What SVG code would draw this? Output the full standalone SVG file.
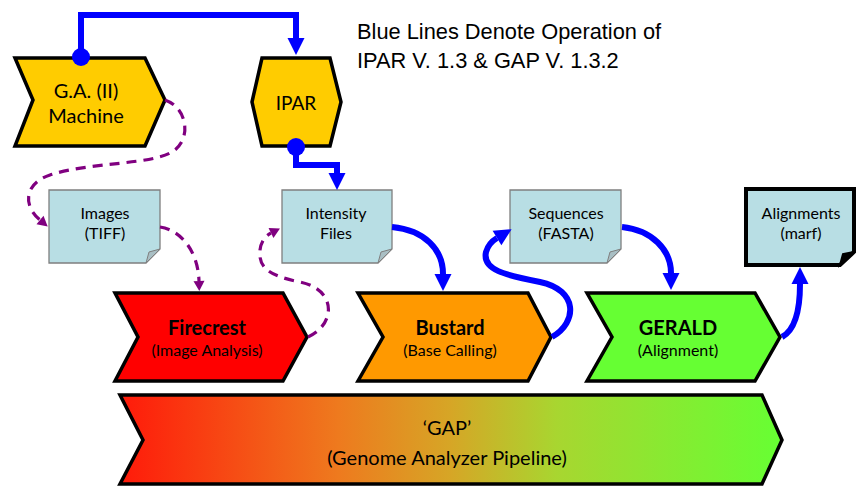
<svg xmlns="http://www.w3.org/2000/svg" width="856" height="492" viewBox="0 0 856 492">
<style>
.node{stroke:#000;stroke-width:3.5;stroke-linejoin:miter}
.doc{fill:#B8DEE4;stroke:#7F7F7F;stroke-width:1.3}
.fold{fill:#A9BFC4;stroke:#7F7F7F;stroke-width:1}
.t{font-family:Lato,"Open Sans",sans-serif;fill:#000;text-anchor:middle}
.b{font-weight:bold}
.blue{fill:none;stroke:#0000FF;stroke-width:6}
.purple{fill:none;stroke:#800080;stroke-width:3.2;stroke-dasharray:10,7}
.note{font-family:"Liberation Sans",Arial,sans-serif;font-size:21.8px;fill:#000}
</style>
<defs>
<marker id="ab" markerUnits="userSpaceOnUse" markerWidth="20" markerHeight="20" refX="0" refY="10" orient="auto" overflow="visible">
<path d="M0,1.5 L17,10 L0,18.5 Z" fill="#0000FF"/>
</marker>
<marker id="ap" markerUnits="userSpaceOnUse" markerWidth="12" markerHeight="12" refX="0" refY="6" orient="auto" overflow="visible">
<path d="M0,0.5 L10,6 L0,11.5 Z" fill="#800080"/>
</marker>
<linearGradient id="gapg" x1="0" y1="0" x2="1" y2="0">
<stop offset="0" stop-color="#FF1A0A"/>
<stop offset="0.33" stop-color="#EE7A1E"/>
<stop offset="0.5" stop-color="#D6A626"/>
<stop offset="0.66" stop-color="#A8D630"/>
<stop offset="1" stop-color="#66FF33"/>
</linearGradient>
</defs>

<text class="note" x="357" y="39">Blue Lines Denote Operation of</text>
<text class="note" x="357" y="68">IPAR V. 1.3 &amp; GAP V. 1.3.2</text>

<g id="ga-machine">
<polygon class="node" fill="#FFCC00" points="15,58 145,58 165,100 145,146 15,146 33,100"/>
<text class="t" x="86" y="98" font-size="20">G.A. (II)</text>
<text class="t" x="86" y="123" font-size="20">Machine</text>
</g>

<g id="ipar">
<polygon class="node" fill="#FFCC00" points="252,102 262,58 330,58 341,102 330,146 262,146"/>
<text class="t" x="296" y="110" font-size="19">IPAR</text>
</g>

<g id="images">
<path class="doc" d="M49,190 H160 V249 L146,263 H49 Z"/>
<path class="fold" d="M146,263 L149,252 L160,249 Z"/>
<text class="t" x="105" y="219" font-size="16">Images</text>
<text class="t" x="105" y="239" font-size="16">(TIFF)</text>
</g>

<g id="intensity">
<path class="doc" d="M282,190 H392 V249 L378,263 H282 Z"/>
<path class="fold" d="M378,263 L381,252 L392,249 Z"/>
<text class="t" x="336" y="219" font-size="16">Intensity</text>
<text class="t" x="336" y="239" font-size="16">Files</text>
</g>

<g id="sequences">
<path class="doc" d="M510,190 H621 V249 L607,263 H510 Z"/>
<path class="fold" d="M607,263 L610,252 L621,249 Z"/>
<text class="t" x="566" y="219" font-size="16">Sequences</text>
<text class="t" x="566" y="239" font-size="16">(FASTA)</text>
</g>

<g id="alignments">
<path d="M746,189 H854 V252 L840,265 H746 Z" fill="#B8DEE4" stroke="#000" stroke-width="4"/>
<path d="M840,265 L843,254 L854,252 Z" fill="#000" stroke="#000" stroke-width="2"/>
<text class="t" x="801" y="219" font-size="16">Alignments</text>
<text class="t" x="801" y="239" font-size="16">(marf)</text>
</g>

<g id="firecrest">
<polygon class="node" fill="#FF0000" points="115,293 283,293 307,337 283,381 115,381 138,337"/>
<text class="t b" x="207" y="335" font-size="20">Firecrest</text>
<text class="t" x="207" y="356" font-size="16">(Image Analysis)</text>
</g>

<g id="bustard">
<polygon class="node" fill="#FF9900" points="358,293 528,293 551,337 528,381 358,381 383,337"/>
<text class="t b" x="450" y="335" font-size="20">Bustard</text>
<text class="t" x="450" y="356" font-size="16">(Base Calling)</text>
</g>

<g id="gerald">
<polygon class="node" fill="#66FF33" points="587,293 755,293 780,337 755,381 587,381 612,337"/>
<text class="t b" x="678" y="335" font-size="20">GERALD</text>
<text class="t" x="678" y="356" font-size="16">(Alignment)</text>
</g>

<g id="gap">
<polygon class="node" fill="url(#gapg)" points="120,395 762,395 782,440 762,484 120,484 143,440"/>
<text class="t" x="447" y="435" font-size="20">‘GAP’</text>
<text class="t" x="447" y="465" font-size="20">(Genome Analyzer Pipeline)</text>
</g>

<g id="connectors">
<path class="blue" d="M81,57 V15 H296 V38" marker-end="url(#ab)"/>
<circle cx="81" cy="57" r="9" fill="#0000FF"/>
<path class="blue" d="M296,147 V165 H337 V173" marker-end="url(#ab)"/>
<circle cx="296" cy="147" r="9" fill="#0000FF"/>
<path class="blue" d="M392,227 C425,230 443,250 443,274" marker-end="url(#ab)"/>
<path class="blue" d="M552,337 C578,322 578,290 540,282 C505,275 482,270 486,252 C488,245 492,241 497,238" marker-end="url(#ab)"/>
<path class="blue" d="M622,227 C652,230 671,250 671,273" marker-end="url(#ab)"/>
<path class="blue" d="M782,337 C795,330 800,310 800,284" marker-end="url(#ab)"/>
<path class="purple" d="M165,100 C188,108 192,140 172,152 C150,165 90,162 50,175 C25,183 22,205 40,220" marker-end="url(#ap)"/>
<path class="purple" d="M160,227 C180,230 198,250 199,281" marker-end="url(#ap)"/>
<path class="purple" d="M308,337 C335,325 338,290 300,282 C270,276 258,268 260,250 C261,242 265,236 271,233" marker-end="url(#ap)"/>
</g>
</svg>
